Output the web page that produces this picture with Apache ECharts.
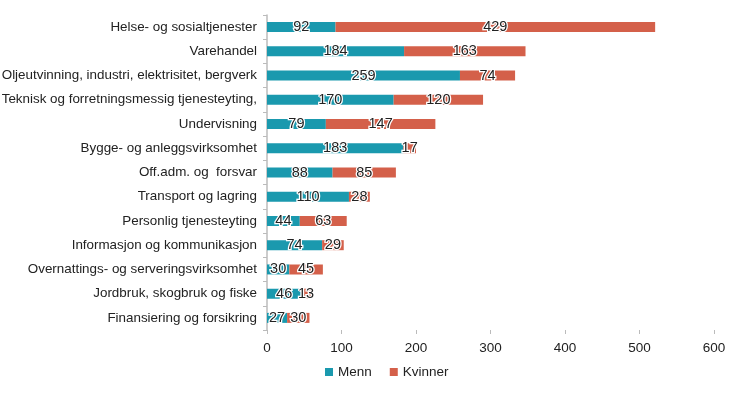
<!DOCTYPE html>
<html><head><meta charset="utf-8">
<script src="https://cdn.jsdelivr.net/npm/echarts@6/dist/echarts.min.js"></script>
<style>html,body{margin:0;padding:0;background:#fff}#c{width:730px;height:394px}</style>
</head><body><div id="c"></div>
<script>
const categories = [
  "Helse- og sosialtjenester",
  "Varehandel",
  "Oljeutvinning, industri, elektrisitet, bergverk",
  "Teknisk og forretningsmessig tjenesteyting,",
  "Undervisning",
  "Bygge- og anleggsvirksomhet",
  "Off.adm. og  forsvar",
  "Transport og lagring",
  "Personlig tjenesteyting",
  "Informasjon og kommunikasjon",
  "Overnattings- og serveringsvirksomhet",
  "Jordbruk, skogbruk og fiske",
  "Finansiering og forsikring"
];
const menn    = [92, 184, 259, 170, 79, 183, 88, 110, 44, 74, 30, 46, 27];
const kvinner = [429, 163, 74, 120, 147, 17, 85, 28, 63, 29, 45, 13, 30];
const xTicks = [0, 100, 200, 300, 400, 500, 600];

const FF = 'Liberation Sans, Arial, sans-serif';
const chart = echarts.init(document.getElementById('c'), null, {renderer:'canvas'});
const lbl = {show:true, position:'inside', color:'#222', fontSize:14.5, fontFamily:FF, textBorderColor:'#fff', textBorderWidth:2.5};
chart.setOption({
  animation:false,
  grid:{left:267, right:16, top:15, bottom:64, containLabel:false, outerBoundsMode:'none'},
  legend:{data:['Menn','Kvinner'], left:320, top:360, itemWidth:8, itemHeight:8, itemGap:18, icon:'rect',
    textStyle:{fontSize:13.5, color:'#222', fontFamily:FF}},
  xAxis:{type:'value', min:xTicks[0], max:xTicks[xTicks.length-1], interval:100,
    axisLine:{show:false}, axisTick:{show:true, length:4, lineStyle:{color:'#bbb'}},
    splitLine:{show:false},
    axisLabel:{color:'#222', fontSize:13.5, margin:11, fontFamily:FF}},
  yAxis:{type:'category', data:categories, inverse:true,
    axisLine:{show:true, lineStyle:{color:'#bbb', width:1.5}},
    axisTick:{show:true, length:4, lineStyle:{color:'#bbb'}},
    axisLabel:{color:'#222', fontSize:13.4, margin:10, fontFamily:FF}},
  series:[
    {name:'Menn', type:'bar', stack:'t', data:menn, barWidth:10, itemStyle:{color:'#1a99ae'}, label:lbl},
    {name:'Kvinner', type:'bar', stack:'t', data:kvinner, barWidth:10, itemStyle:{color:'#d4604a'}, label:lbl}
  ]
});
</script></body></html>
